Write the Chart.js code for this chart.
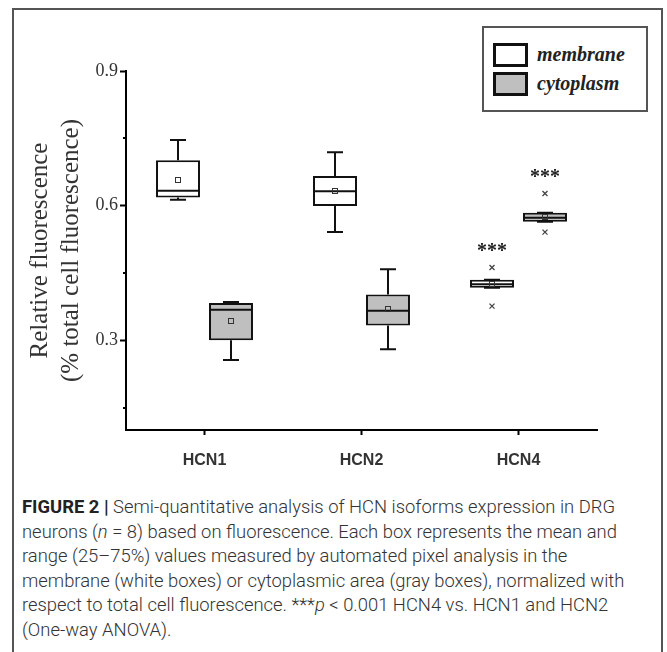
<!DOCTYPE html>
<html>
<head>
<meta charset="utf-8">
<script src="https://cdn.jsdelivr.net/npm/chart.js@4/dist/chart.umd.min.js"></script>
<style>
  html, body { margin:0; padding:0; background:#fff; width:667px; height:652px; overflow:hidden; }
  #frame { position:absolute; left:12px; top:8px; width:651px; height:700px; border:2px solid #555; box-sizing:border-box; }
  #chart { position:absolute; left:0; top:0; }
  #legend { position:absolute; left:482px; top:26px; width:166px; height:86px; border:2px solid #555; box-sizing:border-box; background:#fff; }
  .sw { position:absolute; left:9px; width:35px; height:24px; border:3px solid #111; box-sizing:border-box; }
  .lt { position:absolute; left:53px; font-family:"Liberation Serif", serif; font-weight:bold; font-style:italic; font-size:20px; color:#222; line-height:24px; }
  #caption { position:absolute; left:22px; top:495px; font-family:Roboto, "Liberation Sans", sans-serif; font-weight:300; color:#333; white-space:nowrap; font-size:18.5px; transform-origin:0 0; }
  #caption div { line-height:24.5px; height:24.5px; }
  #caption b { font-weight:700; color:#222; }
</style>
</head>
<body>
<div id="frame"></div>
<canvas id="chart" width="667" height="490"></canvas>
<div id="legend">
  <div class="sw" style="top:15px;background:#fff"></div>
  <div class="lt" style="top:14px">membrane</div>
  <div class="sw" style="top:44px;background:#bfbfbf"></div>
  <div class="lt" style="top:43px">cytoplasm</div>
</div>
<div id="caption">
  <div><span id="cap1"><b>FIGURE 2 |</b> Semi-quantitative analysis of HCN isoforms expression in DRG</span></div>
  <div>neurons (<i>n</i> = 8) based on fluorescence. Each box represents the mean and</div>
  <div>range (25–75%) values measured by automated pixel analysis in the</div>
  <div>membrane (white boxes) or cytoplasmic area (gray boxes), normalized with</div>
  <div>respect to total cell fluorescence. ***<i>p</i> &lt; 0.001 HCN4 vs. HCN1 and HCN2</div>
  <div>(One-way ANOVA).</div>
</div>
<script>
// ---- data ----
const categories = ['HCN1', 'HCN2', 'HCN4'];
const seriesNames = ['membrane', 'cytoplasm'];

const membraneQ1     = [0.618, 0.599, 0.417];
const membraneQ3     = [0.701, 0.666, 0.435];
const membraneMedian = [0.633, 0.632, 0.425];
const membraneMean   = [0.657, 0.632, 0.426];
const membraneMin    = [0.613, 0.541, 0.417];
const membraneMax    = [0.746, 0.719, 0.435];
const membraneOutLow  = [null, null, 0.376];
const membraneOutHigh = [null, null, 0.462];

const cytoplasmQ1     = [0.300, 0.333, 0.564];
const cytoplasmQ3     = [0.383, 0.402, 0.584];
const cytoplasmMedian = [0.368, 0.366, 0.573];
const cytoplasmMean   = [0.342, 0.370, 0.574];
const cytoplasmMin    = [0.256, 0.280, 0.564];
const cytoplasmMax    = [0.385, 0.458, 0.584];
const cytoplasmOutLow  = [null, null, 0.541];
const cytoplasmOutHigh = [null, null, 0.627];

const significance = ['', '', '***'];

const yMajorTicks = [0.3, 0.6, 0.9];
const yMinorTicks = [0.15, 0.45, 0.75];
const yMin = 0.1, yMax = 0.9;

// ---- build ----
const stats = [
  {q1: membraneQ1, q3: membraneQ3, med: membraneMedian, mean: membraneMean, lo: membraneMin, hi: membraneMax, oLo: membraneOutLow, oHi: membraneOutHigh},
  {q1: cytoplasmQ1, q3: cytoplasmQ3, med: cytoplasmMedian, mean: cytoplasmMean, lo: cytoplasmMin, hi: cytoplasmMax, oLo: cytoplasmOutLow, oHi: cytoplasmOutHigh}
];
const fills = ['#ffffff', '#bfbfbf'];

const boxPlugin = {
  id: 'boxExtras',
  afterDatasetsDraw(chart) {
    const ctx = chart.ctx;
    const ys = chart.scales.y;
    ctx.save();
    ctx.strokeStyle = '#000';
    ctx.lineWidth = 2;
    const ax = chart.chartArea.left;
    yMinorTicks.forEach(v => {
      const py = Math.round(ys.getPixelForValue(v));
      ctx.beginPath(); ctx.moveTo(ax - 3, py); ctx.lineTo(ax, py); ctx.stroke();
    });
    stats.forEach((s, di) => {
      const meta = chart.getDatasetMeta(di);
      meta.data.forEach((bar, i) => {
        const x = bar.x, hw = bar.width / 2;
        const pq1 = ys.getPixelForValue(s.q1[i]);
        const pq3 = ys.getPixelForValue(s.q3[i]);
        const plo = ys.getPixelForValue(s.lo[i]);
        const phi = ys.getPixelForValue(s.hi[i]);
        const pmed = ys.getPixelForValue(s.med[i]);
        const pmean = ys.getPixelForValue(s.mean[i]);
        ctx.strokeStyle = '#111';
        ctx.lineWidth = 2;
        ctx.beginPath();
        ctx.moveTo(x, pq3); ctx.lineTo(x, phi);
        ctx.moveTo(x, pq1); ctx.lineTo(x, plo);
        ctx.moveTo(x - 8, phi); ctx.lineTo(x + 8, phi);
        ctx.moveTo(x - 8, plo); ctx.lineTo(x + 8, plo);
        ctx.stroke();
        ctx.beginPath();
        ctx.moveTo(x - hw, pmed); ctx.lineTo(x + hw, pmed);
        ctx.stroke();
        ctx.lineWidth = 1;
        ctx.strokeStyle = '#333';
        ctx.strokeRect(Math.round(x) - 2.5, Math.round(pmean) - 2.5, 5, 5);
        ctx.strokeStyle = '#444';
        ctx.lineWidth = 1.3;
        [s.oLo[i], s.oHi[i]].forEach(v => {
          if (v === null) return;
          const py = ys.getPixelForValue(v);
          ctx.beginPath();
          ctx.moveTo(x - 2.5, py - 2.5); ctx.lineTo(x + 2.5, py + 2.5);
          ctx.moveTo(x + 2.5, py - 2.5); ctx.lineTo(x - 2.5, py + 2.5);
          ctx.stroke();
        });
        if (significance[i]) {
          const top = s.oHi[i] !== null ? s.oHi[i] : s.hi[i];
          const py = ys.getPixelForValue(top) - 18;
          ctx.fillStyle = '#222';
          ctx.font = 'bold 20px "Liberation Serif", serif';
          ctx.textAlign = 'center';
          ctx.textBaseline = 'middle';
          ctx.fillText(significance[i], x, py + 2);
        }
      });
    });
    ctx.restore();
  }
};

new Chart(document.getElementById('chart'), {
  type: 'bar',
  data: {
    labels: categories,
    datasets: stats.map((s, di) => ({
      label: seriesNames[di],
      data: s.q1.map((v, i) => [v, s.q3[i]]),
      backgroundColor: fills[di],
      borderColor: '#111',
      borderWidth: 2,
      borderSkipped: false,
      categoryPercentage: 0.675,
      barPercentage: 0.83
    }))
  },
  options: {
    responsive: false,
    devicePixelRatio: 1,
    animation: false,
    layout: { padding: { left: 10, top: 71, right: 70, bottom: 20 } },
    plugins: { legend: { display: false }, tooltip: { enabled: false } },
    scales: {
      x: {
        grid: { drawOnChartArea: false, offset: false, tickLength: 5, tickWidth: 2, tickColor: '#000' },
        border: { display: true, width: 2, color: '#000' },
        ticks: { font: { family: '"Liberation Sans", Arial, sans-serif', size: 16, weight: 'bold' }, color: '#333', padding: 16 },
        afterFit(scale) { scale.height = 40; }
      },
      y: {
        min: yMin, max: yMax,
        afterBuildTicks(scale) {
          scale.ticks = yMajorTicks.map(v => ({ value: v }));
        },
        grid: { drawOnChartArea: false, tickLength: 6, tickWidth: 2, tickColor: '#000' },
        border: { display: true, width: 2, color: '#000' },
        ticks: {
          font: { family: '"Liberation Serif", serif', size: 18 },
          color: '#333',
          padding: 2,
          callback: v => v.toFixed(1)
        },
        title: {
          display: true,
          text: ['Relative fluorescence', '(% total cell fluorescence)'],
          font: { family: '"Liberation Serif", serif', size: 25, lineHeight: 1.24 },
          color: '#333',
          padding: { top: 14.5, bottom: 0 }
        },
        afterFit(scale) { scale.width = 116; }
      }
    }
  },
  plugins: [boxPlugin]
});

// compress caption horizontally to the reference line length (narrow face)
(function () {
  const l1 = document.getElementById('cap1');
  const cap = document.getElementById('caption');
  const w = l1.getBoundingClientRect().width;
  cap.style.transform = 'scaleX(' + (593 / w).toFixed(4) + ')';
})();
</script>
</body>
</html>
